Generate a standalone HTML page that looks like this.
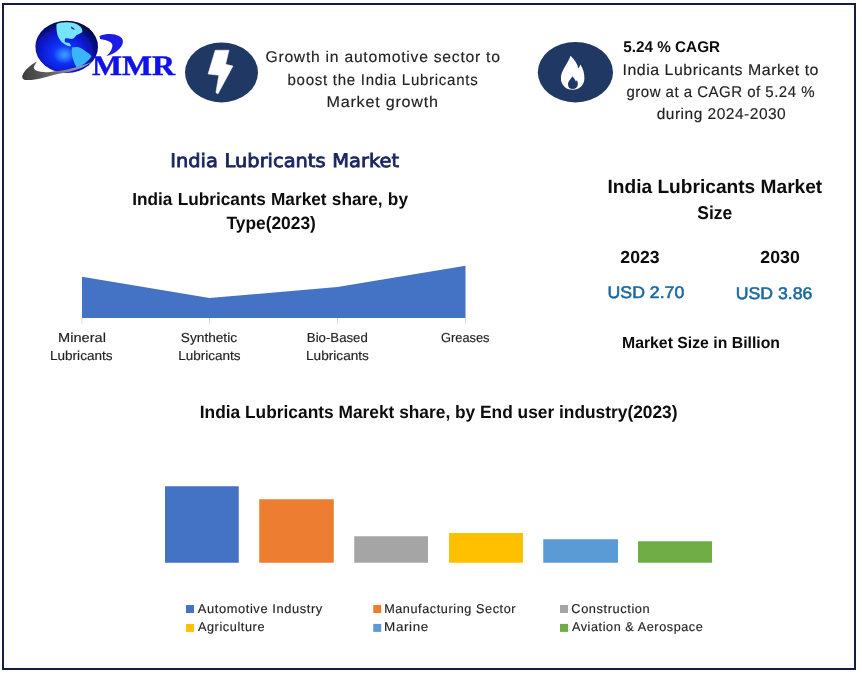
<!DOCTYPE html>
<html lang="en">
<head>
<meta charset="utf-8">
<title>India Lubricants Market</title>
<style>
html,body{margin:0;padding:0;background:#fff;}
body{width:862px;height:676px;overflow:hidden;font-family:"Liberation Sans",sans-serif;}
svg{display:block;}
text{white-space:pre;text-rendering:geometricPrecision;}
</style>
</head>
<body>
<svg width="862" height="676" viewBox="0 0 862 676">
<defs>
<radialGradient id="gl" cx="0.45" cy="0.62" r="0.64">
<stop offset="0" stop-color="#1a50ff"/>
<stop offset="0.3" stop-color="#1030f4"/>
<stop offset="0.6" stop-color="#0a18cc"/>
<stop offset="0.85" stop-color="#050c70"/>
<stop offset="1" stop-color="#02051e"/>
</radialGradient>
<radialGradient id="glow" cx="0.5" cy="0.5" r="0.5">
<stop offset="0" stop-color="#3fa8ff" stop-opacity="0.9"/>
<stop offset="1" stop-color="#3fa8ff" stop-opacity="0"/>
</radialGradient>
<linearGradient id="sw" x1="0" y1="0" x2="1" y2="0">
<stop offset="0" stop-color="#3c3c3c"/>
<stop offset="0.45" stop-color="#686868"/>
<stop offset="0.7" stop-color="#8a8aa0"/>
<stop offset="1" stop-color="#9c9cd0"/>
</linearGradient>
<filter id="soft" x="-10%" y="-10%" width="120%" height="120%"><feGaussianBlur stdDeviation="0.45"/></filter>
</defs>
<rect x="0" y="0" width="862" height="676" fill="#ffffff"/>
<rect x="3" y="4" width="852" height="665" fill="none" stroke="#161d42" stroke-width="2"/>
<!-- logo -->
<g filter="url(#soft)">
<ellipse cx="66.7" cy="46.8" rx="31.3" ry="26.1" fill="url(#gl)"/>
<ellipse cx="64.5" cy="55" rx="11" ry="9" fill="url(#glow)"/>
<path d="M56.6 23.9 C59 22.8 61.5 22.5 63.6 22.5 C67 22 71 22.2 73.8 22.9 C76.8 23.8 79.3 25.3 80.8 27.1 C82 28.8 82.6 30.6 82.2 32.2 C80.5 33.5 78.5 34.2 76.6 35 C75.5 36.2 74.8 37.4 73.8 38.3 C72.6 38.9 71.3 39 70.1 38.8 C68.5 38.2 67 38 65.4 38.3 C64.6 39.6 64.5 41 65 42 C66.3 42.8 67.8 42.8 69.2 43 C70.2 43.8 70.8 45 71 46.2 C69.7 46.4 68.4 46.2 67.3 45.8 C65.2 44.8 63.3 43.5 61.7 42 C60.2 40.3 59 38.4 58 36.4 C57.2 34.3 56.7 32.1 56.6 29.9 C56.3 27.9 56.3 25.9 56.6 23.9 Z" fill="#74e4fc"/>
<path d="M71 26.5 C72.5 27 74 28 75 29.5 C73.8 29.8 72.3 29.2 71.2 28.2 Z" fill="#0c2cb8"/>
<path d="M72 47.6 C74 46.9 76.4 46.8 78.5 47.2 C81.2 48.1 83.7 49.6 85.9 51.4 C88 52.7 90 54.2 91.5 56 C90.8 57.8 89.4 59.3 87.8 60.7 C86.2 62.5 84.3 64 82.2 65.3 C80.5 66.3 78.6 67 76.6 67.2 C75.4 65.5 74.5 63.6 73.8 61.6 C73 59.5 72.4 57.3 72 55.1 C71.6 52.6 71.6 50.1 72 47.6 Z" fill="#38b6f6"/>
<path d="M37.1 61.4 C31 64.5 23.5 70.5 22.2 76.4 C22 79 24.5 80.3 27.3 80.1 C32 80.2 37 79.2 41.3 78.2 C45.3 77.2 49.3 76 53.3 74.9 C58 73.9 62.7 73.2 67.3 72.3 C72 71 76.7 69.6 81.3 68.1 C85 66.4 88.5 64.5 91.5 62.1 C88.2 63.6 84.8 64.8 81.3 65.8 C76.7 67.2 72 68.5 67.3 69.5 C62.7 70.5 58 71.2 53.3 71.6 C50.8 72.1 48.4 72.3 46 72.2 C42 72 38.5 71.8 36.6 70.8 C34.5 69.8 33.5 68.5 33.9 67 C34.5 65 35.8 63 37.1 61.4 Z" fill="url(#sw)"/>
<path d="M99.5 36.1 C103 34.6 106.5 34.1 110.1 34.1 C113.5 34.1 116.5 34.8 118.9 36.1 C120.8 37.1 122.2 38.4 122.7 40.1 C123.1 41.8 122.9 43.5 122.1 45.1 C120.9 47.5 118.8 49.6 116.4 51.4 C113.4 53.5 110 55 106.4 56.1 C108.2 54.5 109.8 52.8 110.8 50.8 C111.7 49.2 112.4 47.5 112.4 45.8 C112.4 44.5 111.8 43.4 110.8 42.6 C109.2 41.3 107.2 40.6 105.1 40.1 C103.4 39.6 101.7 39.2 100.1 38.9 Z" fill="#1a1ae4"/>
</g>
<!-- icons -->
<ellipse cx="221.5" cy="72.4" rx="36.5" ry="30" fill="#203864"/>
<path d="M215.2 50.2 L229 50.2 L225.6 64.3 L233 66 L217.9 94 L215.9 92.6 L218.8 75.2 L208.1 74 Z" fill="#ffffff" stroke="#ffffff" stroke-width="0.5" stroke-linejoin="round"/>
<ellipse cx="575.4" cy="72.2" rx="37.6" ry="30.2" fill="#203864"/>
<path d="M570.5 55.8 C574.5 59.5 577.5 64 578.3 68.5 C579.3 67.2 580 66 580.3 64.6 C583 68.5 584.6 73.5 584.4 78.5 C584.2 85 579.5 89.8 572.6 89.8 C565.8 89.8 560.9 85 560.9 78.3 C560.9 70 568 64 570.5 55.8 Z" fill="#ffffff"/>
<path d="M572.3 76.3 C574.2 78.4 575.6 80.1 575.9 81.8 C576.3 81.3 576.7 80.7 576.8 80 C577.8 81.6 578 83.4 577.8 84.8 C577.4 87.4 575.3 89.1 572.8 89.1 C570 89.1 568 87.2 568 84.4 C568 81 571.3 78.8 572.3 76.3 Z" fill="#203864"/>
<!-- area chart -->
<path d="M82 276.75 L209.5 298 L337.5 287 L465.5 265.75 L465.5 318 L82 318 Z" fill="#4472c4"/>
<g stroke="#d9d9d9" stroke-width="1">
<line x1="82" y1="318" x2="82" y2="324"/><line x1="209.5" y1="318" x2="209.5" y2="324"/><line x1="337.5" y1="318" x2="337.5" y2="324"/><line x1="465.5" y1="318" x2="465.5" y2="324"/>
</g>
<!-- bars -->
<rect x="165" y="486.25" width="73.75" height="76.5" fill="#4472c4"/><rect x="259.25" y="499.25" width="74.5" height="63.5" fill="#ed7d31"/><rect x="354.25" y="536.25" width="73.75" height="26.5" fill="#a5a5a5"/><rect x="449" y="533" width="74" height="29.75" fill="#ffc000"/><rect x="543.25" y="539.25" width="74.75" height="23.5" fill="#5b9bd5"/><rect x="638" y="541.25" width="74" height="21.5" fill="#70ad47"/>
<rect x="186" y="605" width="8" height="8" fill="#4472c4"/><rect x="186" y="623.9" width="8" height="8" fill="#ffc000"/><rect x="373.25" y="605" width="8" height="8" fill="#ed7d31"/><rect x="373.25" y="623.9" width="8" height="8" fill="#5b9bd5"/><rect x="560" y="605" width="8" height="8" fill="#a5a5a5"/><rect x="560" y="623.9" width="8" height="8" fill="#70ad47"/>
<!-- text -->
<text transform="translate(91.90 74.70) scale(1.1292 1)" font-family="'Liberation Serif', serif" font-size="28.24" font-weight="bold" fill="#1010e8" stroke="#1010e8" stroke-width="0.4">MMR</text>
<text transform="translate(265.47 62.00) scale(1.0078 1)" font-family="'Liberation Sans', sans-serif" font-size="15.55" fill="#222222" stroke="#222222" stroke-width="0.15" letter-spacing="0.75">Growth in automotive sector to</text>
<text transform="translate(287.53 84.60) scale(0.9662 1)" font-family="'Liberation Sans', sans-serif" font-size="15.55" fill="#222222" stroke="#222222" stroke-width="0.15" letter-spacing="0.75">boost the India Lubricants</text>
<text transform="translate(326.42 107.30) scale(1.0383 1)" font-family="'Liberation Sans', sans-serif" font-size="15.55" fill="#222222" stroke="#222222" stroke-width="0.15" letter-spacing="0.75">Market growth</text>
<text transform="translate(170.21 166.70) scale(1.0491 1)" font-family="'DejaVu Sans', sans-serif" font-size="18.50" fill="#1b2560" stroke="#1b2560" stroke-width="0.8" word-spacing="0.5">India Lubricants Market</text>
<text transform="translate(132.22 204.70) scale(0.9878 1)" font-family="'Liberation Sans', sans-serif" font-size="17.44" font-weight="bold" fill="#0c0c0c" word-spacing="0.5">India Lubricants Market share, by</text>
<text transform="translate(226.50 228.95) scale(0.9745 1)" font-family="'Liberation Sans', sans-serif" font-size="17.81" font-weight="bold" fill="#0c0c0c">Type(2023)</text>
<text transform="translate(58.10 342.00) scale(1.1154 1)" font-family="'Liberation Sans', sans-serif" font-size="13.08" fill="#222222" stroke="#222222" stroke-width="0.15">Mineral</text>
<text transform="translate(50.03 360.00) scale(1.0350 1)" font-family="'Liberation Sans', sans-serif" font-size="13.08" fill="#222222" stroke="#222222" stroke-width="0.15">Lubricants</text>
<text transform="translate(180.86 342.00) scale(1.0435 1)" font-family="'Liberation Sans', sans-serif" font-size="13.08" fill="#222222" stroke="#222222" stroke-width="0.15">Synthetic</text>
<text transform="translate(178.28 360.00) scale(1.0327 1)" font-family="'Liberation Sans', sans-serif" font-size="13.08" fill="#222222" stroke="#222222" stroke-width="0.15">Lubricants</text>
<text transform="translate(306.87 342.00) scale(1.0093 1)" font-family="'Liberation Sans', sans-serif" font-size="13.08" fill="#222222" stroke="#222222" stroke-width="0.15">Bio-Based</text>
<text transform="translate(306.01 360.00) scale(1.0424 1)" font-family="'Liberation Sans', sans-serif" font-size="13.08" fill="#222222" stroke="#222222" stroke-width="0.15">Lubricants</text>
<text transform="translate(441.10 342.00) scale(0.9782 1)" font-family="'Liberation Sans', sans-serif" font-size="13.08" fill="#222222" stroke="#222222" stroke-width="0.15">Greases</text>
<text transform="translate(607.43 192.70) scale(0.9974 1)" font-family="'Liberation Sans', sans-serif" font-size="19.19" font-weight="bold" fill="#0c0c0c">India Lubricants Market</text>
<text transform="translate(697.20 218.75) scale(0.9455 1)" font-family="'Liberation Sans', sans-serif" font-size="18.53" font-weight="bold" fill="#0c0c0c">Size</text>
<text transform="translate(620.35 262.50) scale(1.0137 1)" font-family="'Liberation Sans', sans-serif" font-size="17.44" font-weight="bold" fill="#0c0c0c">2023</text>
<text transform="translate(760.34 262.50) scale(1.0162 1)" font-family="'Liberation Sans', sans-serif" font-size="17.44" font-weight="bold" fill="#0c0c0c">2030</text>
<text transform="translate(607.58 297.50) scale(1.0487 1)" font-family="'Liberation Sans', sans-serif" font-size="16.86" fill="#1a68a2" stroke="#1a68a2" stroke-width="0.55">USD 2.70</text>
<text transform="translate(735.64 298.70) scale(1.0488 1)" font-family="'Liberation Sans', sans-serif" font-size="16.86" fill="#1a68a2" stroke="#1a68a2" stroke-width="0.55">USD 3.86</text>
<text transform="translate(621.97 348.00) scale(0.9885 1)" font-family="'Liberation Sans', sans-serif" font-size="15.99" font-weight="bold" fill="#0c0c0c">Market Size in Billion</text>
<text transform="translate(623.31 52.00) scale(0.9819 1)" font-family="'Liberation Sans', sans-serif" font-size="15.55" font-weight="bold" fill="#0c0c0c">5.24 % CAGR</text>
<text transform="translate(622.56 74.80) scale(1.0235 1)" font-family="'Liberation Sans', sans-serif" font-size="15.55" fill="#222222" stroke="#222222" stroke-width="0.15" letter-spacing="0.5">India Lubricants Market to</text>
<text transform="translate(626.49 96.80) scale(0.9657 1)" font-family="'Liberation Sans', sans-serif" font-size="15.55" fill="#222222" stroke="#222222" stroke-width="0.15" letter-spacing="0.5">grow at a CAGR of 5.24 %</text>
<text transform="translate(656.71 118.90) scale(0.9973 1)" font-family="'Liberation Sans', sans-serif" font-size="15.55" fill="#222222" stroke="#222222" stroke-width="0.15" letter-spacing="0.5">during 2024-2030</text>
<text transform="translate(199.77 417.60) scale(0.9739 1)" font-family="'Liberation Sans', sans-serif" font-size="17.81" font-weight="bold" fill="#0c0c0c">India Lubricants Marekt share, by End user industry(2023)</text>
<text transform="translate(197.83 612.60) scale(1.0054 1)" font-family="'Liberation Sans', sans-serif" font-size="12.79" fill="#222222" stroke="#222222" stroke-width="0.15" letter-spacing="0.6">Automotive Industry</text>
<text transform="translate(197.90 631.20) scale(0.9923 1)" font-family="'Liberation Sans', sans-serif" font-size="12.79" fill="#222222" stroke="#222222" stroke-width="0.15" letter-spacing="0.6">Agriculture</text>
<text transform="translate(384.13 612.60) scale(0.9886 1)" font-family="'Liberation Sans', sans-serif" font-size="12.79" fill="#222222" stroke="#222222" stroke-width="0.15" letter-spacing="0.6">Manufacturing Sector</text>
<text transform="translate(384.04 631.20) scale(1.0530 1)" font-family="'Liberation Sans', sans-serif" font-size="12.79" fill="#222222" stroke="#222222" stroke-width="0.15" letter-spacing="0.6">Marine</text>
<text transform="translate(571.33 612.60) scale(1.0000 1)" font-family="'Liberation Sans', sans-serif" font-size="12.79" fill="#222222" stroke="#222222" stroke-width="0.15" letter-spacing="0.6">Construction</text>
<text transform="translate(571.91 631.20) scale(0.9861 1)" font-family="'Liberation Sans', sans-serif" font-size="12.79" fill="#222222" stroke="#222222" stroke-width="0.15" letter-spacing="0.6">Aviation &amp; Aerospace</text>
</svg>
</body>
</html>
